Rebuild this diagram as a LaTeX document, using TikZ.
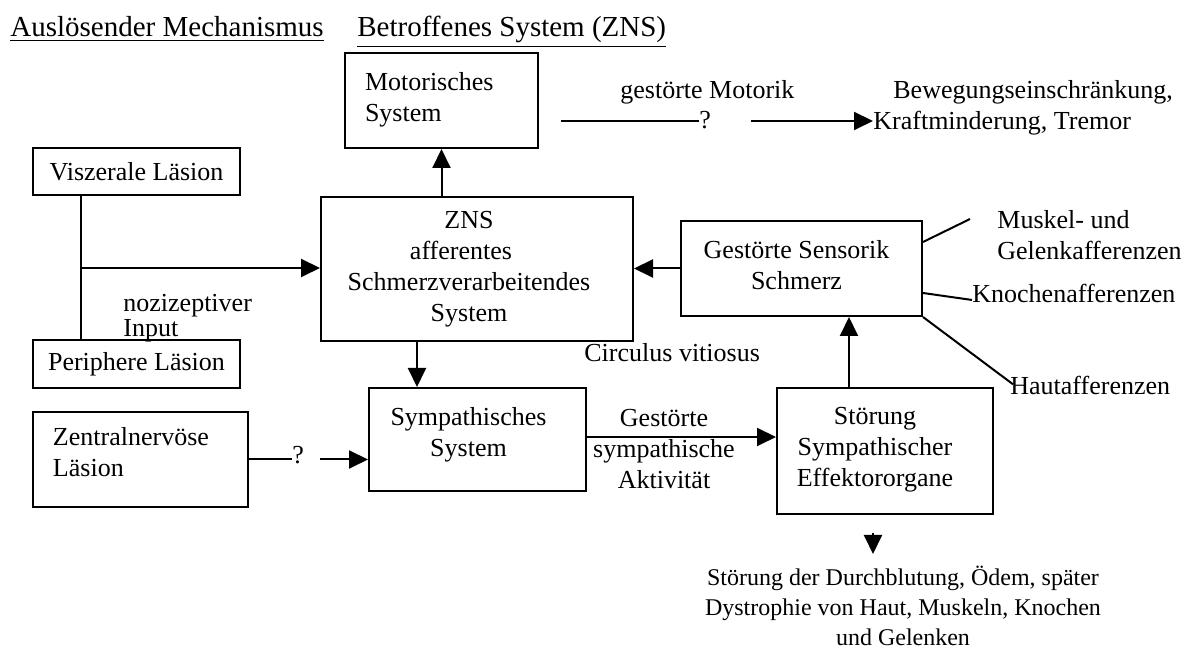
\documentclass[tikz,border=0pt]{standalone}
\usepackage{fontspec}
\setmainfont{Liberation Serif}
\usetikzlibrary{arrows.meta,positioning}

\newcommand{\padr}[1]{\rule{#1}{0pt}}

\tikzset{
  box/.style={draw, line width=1pt, inner ysep=0pt},
  con/.style={line width=1pt},
  arr/.style={line width=1pt, -{Triangle[length=9.5pt,width=9pt]}},
  txt/.style={inner sep=0pt},
}

\begin{document}
\begin{tikzpicture}[x=0.5pt, y=-0.5pt, font=\fontsize{13}{15.5}\selectfont]
        \useasboundingbox (0,0) rectangle (1185,651);

        % Headings
        \node[txt, anchor=base west, font=\fontsize{14.5}{17}\selectfont] (hmech) at (10,37) {\underline{Auslösender Mechanismus}};
        \node[txt, anchor=base west, font=\fontsize{14.5}{17}\selectfont] (hsys) at (357,37) {\underline{Betroffenes System (ZNS)}};

        % Boxes
        \node[box, minimum width=96.5pt, minimum height=47.5pt, text width=76.5pt, inner xsep=10pt, align=left] (motor) at (441.5,100.5) {Motorisches\\System\\[-12pt]\mbox{}};
        \node[box, minimum width=156pt, minimum height=72pt, align=center] (zns) at (477,269) {ZNS\padr{8pt}\\afferentes\padr{16pt}\\Schmerzverarbeitendes\padr{8pt}\\System\padr{8pt}};
        \node[box, minimum width=120.5pt, minimum height=47.5pt, align=center] (sens) at (801.5,268.5) {Gestörte Sensorik\padr{5pt}\\Schmerz\padr{5pt}\\[-12pt]\mbox{}};
        \node[box, minimum width=108.5pt, minimum height=51.5pt, align=center] (symp) at (477.5,439.5) {Sympathisches\padr{9pt}\\System\padr{9pt}\\[-8pt]\mbox{}};
        \node[box, minimum width=108pt, minimum height=63pt, align=center] (stoer) at (885,451) {Störung\padr{10pt}\\Sympathischer\padr{10pt}\\Effektororgane\padr{10pt}\\[-11.5pt]\mbox{}};
        \node[box, minimum width=103.5pt, minimum height=23.5pt, align=left] (visz) at (136.5,171.5) {Viszerale Läsion};
        \node[box, minimum width=103.5pt, minimum height=24pt, align=left] (peri) at (136.5,364) {Periphere Läsion};
        \node[box, minimum width=107.5pt, minimum height=47.5pt, text width=87.5pt, inner xsep=10pt, align=left] (zentral) at (140.5,459.5) {Zentralnervöse\\Läsion\\[-8pt]\mbox{}};

        % Nociceptive input
        \coordinate (junc) at (81,268);
        \draw[con] (visz.south -| junc) -- (peri.north -| junc);
        \draw[arr] (junc) -- (zns.west |- junc);
        \node[txt, anchor=north west, align=left, font=\fontsize{13}{10.5}\selectfont] (nozi) at (123,294) {nozizeptiver\\Input};

        % ZNS arrows
        \coordinate (down) at (417,0);
        \coordinate (up) at (849,0);
        \coordinate (sy) at (0,437);
        \draw[arr] (zns.north -| motor) -- (motor.south);
        \draw[arr] (zns.south -| down) -- (symp.north -| down);
        \draw[arr] (sens.west) -- (zns.east |- sens.west);
        \draw[arr] (stoer.north -| up) -- (sens.south -| up);
        \draw[arr] (symp.east |- sy) -- (stoer.west |- sy);
        \node[txt, align=center] (aktiv) at (664,449.5) {Gestörte\\sympathische\\Aktivität};
        \node[txt, anchor=base west] (circ) at (584,362) {Circulus vitiosus};

        % Central lesion
        \node[txt, anchor=base west] (q2) at (292,464) {?};
        \draw[con] (zentral.east) -- (zentral.east -| q2.west);
        \draw[arr] ([xshift=8pt]q2.east |- zentral.east) -- (symp.west |- zentral.east);

        % Motor disturbance
        \node[txt, anchor=base west] (motlab) at (620,99) {gestörte Motorik};
        \coordinate (mstart) at (561,121);
        \node[txt, anchor=base west] (q1) at (699,129) {?};
        \draw[con] (mstart) -- (mstart -| q1.west);
        \node[txt, anchor=base west] (bew) at (893,99) {Bewegungseinschränkung,};
        \node[txt, anchor=base west] (kraft) at (873,130) {Kraftminderung, Tremor};
        \draw[arr] ([xshift=20pt]q1.east |- mstart) -- (kraft.west |- mstart);

        % Afferents
        \node[txt, anchor=north west, align=left] (muskel) at (997,210) {Muskel- und\\Gelenkafferenzen};
        \coordinate (m1) at (970,219);
        \draw[con] ([yshift=-11pt]sens.north east) -- (m1);
        \node[txt, anchor=base west] (knochen) at (972,303) {Knochenafferenzen};
        \draw[con] ([yshift=12pt]sens.south east) -- ([yshift=-3pt]knochen.west);
        \node[txt, anchor=base west] (haut) at (1010,395) {Hautafferenzen};
        \draw[con] (sens.south east) -- ([xshift=1.5pt,yshift=-4pt]haut.north west);

        % Consequences
        \node[txt, align=center, anchor=north, font=\fontsize{12}{15}\selectfont] (folge) at (903,566) {Störung der Durchblutung, Ödem, später\\Dystrophie von Haut, Muskeln, Knochen\\und Gelenken};
        \draw[arr] ([xshift=-6pt,yshift=-9pt]stoer.south) -- ([xshift=-6pt,yshift=6pt]stoer.south |- folge.north);
    \end{tikzpicture}
\end{document}
